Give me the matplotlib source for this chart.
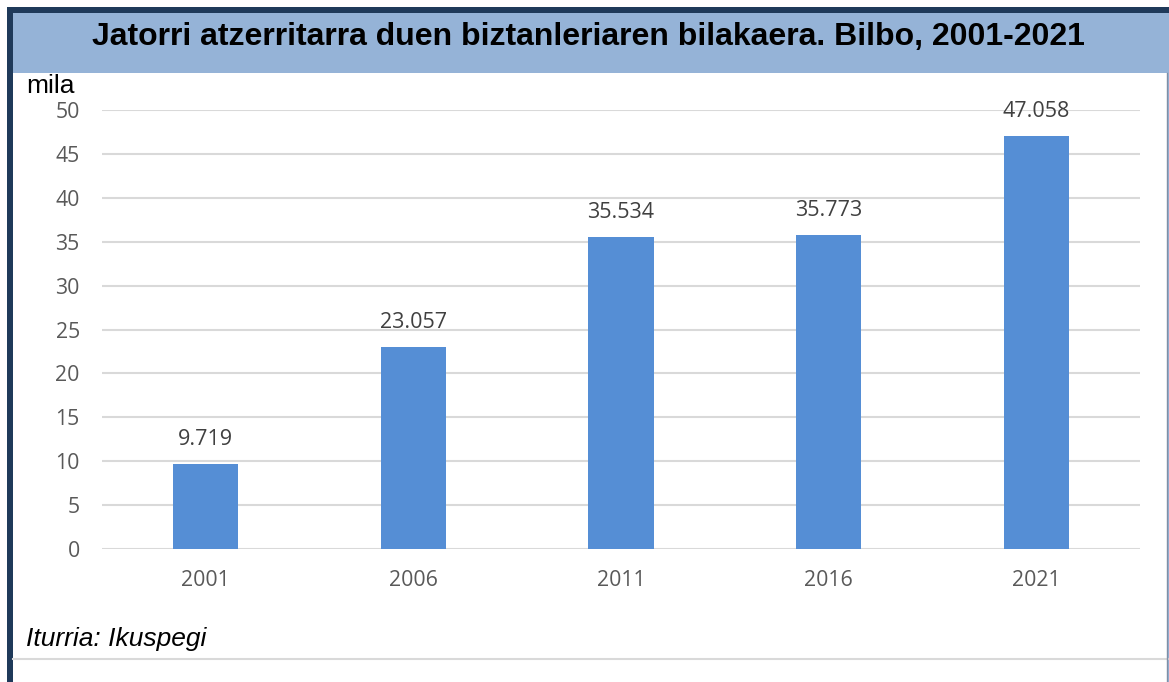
import matplotlib
matplotlib.use("Agg")
import matplotlib.pyplot as plt
from matplotlib.patches import Rectangle
from matplotlib.lines import Line2D

# Data
years = ["2001", "2006", "2011", "2016", "2021"]
values = [9.719, 23.057, 35.534, 35.773, 47.058]
labels = ["9.719", "23.057", "35.534", "35.773", "47.058"]
yticks = [0, 5, 10, 15, 20, 25, 30, 35, 40, 45, 50]

W, H = 1169, 682
fig = plt.figure(figsize=(W / 100, H / 100), dpi=100)
fig.patch.set_facecolor("white")

# frame: navy outer border, blue header band
fig.add_artist(Rectangle((7 / W, 0), 1 - 7 / W, 1 - 7 / H, transform=fig.transFigure,
                         facecolor="#1F3A5A", edgecolor="none", zorder=0))
fig.add_artist(Rectangle((13 / W, 0), 1 - 13 / W, 1 - 13 / H, transform=fig.transFigure,
                         facecolor="#95B3D7", edgecolor="none", zorder=0))
fig.add_artist(Rectangle((13 / W, 0), 1 - 15 / W, 1 - 73 / H, transform=fig.transFigure,
                         facecolor="white", edgecolor="none", zorder=0))
fig.add_artist(Line2D([13 / W, 1], [1 - 659 / H, 1 - 659 / H], transform=fig.transFigure,
                      color="#D9D9D9", linewidth=1.5))
fig.add_artist(Line2D([1 - 2 / W, 1 - 2 / W], [0, 1 - 73 / H], transform=fig.transFigure,
                      color="#7F8FA6", linewidth=1))

fig.text(588 / W, 1 - 37 / H, "Jatorri atzerritarra duen biztanleriaren bilakaera. Bilbo, 2001-2021",
         ha="center", va="center", fontsize=23, fontweight="bold",
         family="Liberation Sans", color="black")
fig.text(26 / W, 1 - 86 / H, "mila", ha="left", va="center", fontsize=19,
         family="Liberation Sans", color="black")
fig.text(26 / W, 1 - 639 / H, "Iturria: Ikuspegi", ha="left", va="center", fontsize=19,
         family="Liberation Sans", style="italic", color="black")

ax = fig.add_axes([102 / W, 1 - 549 / H, (1140 - 102) / W, (549 - 110) / H])
ax.set_facecolor("none")
x = range(len(years))
bars = ax.bar(x, values, width=0.315, color="#558ED5", zorder=3)
for xi, v, lab in zip(x, values, labels):
    ax.text(xi, v + 1.6, lab, ha="center", va="bottom", fontsize=15.5,
            family="Open Sans", color="#404040", zorder=4)

ax.set_xlim(-0.5, len(years) - 0.5)
ax.set_ylim(0, 50)
ax.set_yticks(yticks)
ax.set_xticks(list(x))
ax.set_xticklabels(years)
ax.yaxis.grid(True, color="#D9D9D9", linewidth=1.5, zorder=0)
ax.set_axisbelow(True)
for s in ax.spines.values():
    s.set_visible(False)
ax.tick_params(axis="both", length=0, labelsize=15.3, labelcolor="#595959")
ax.tick_params(axis="x", pad=15)
ax.tick_params(axis="y", pad=16)
for t in ax.get_xticklabels() + ax.get_yticklabels():
    t.set_family("Open Sans")

fig.savefig("out.png", dpi=100)
